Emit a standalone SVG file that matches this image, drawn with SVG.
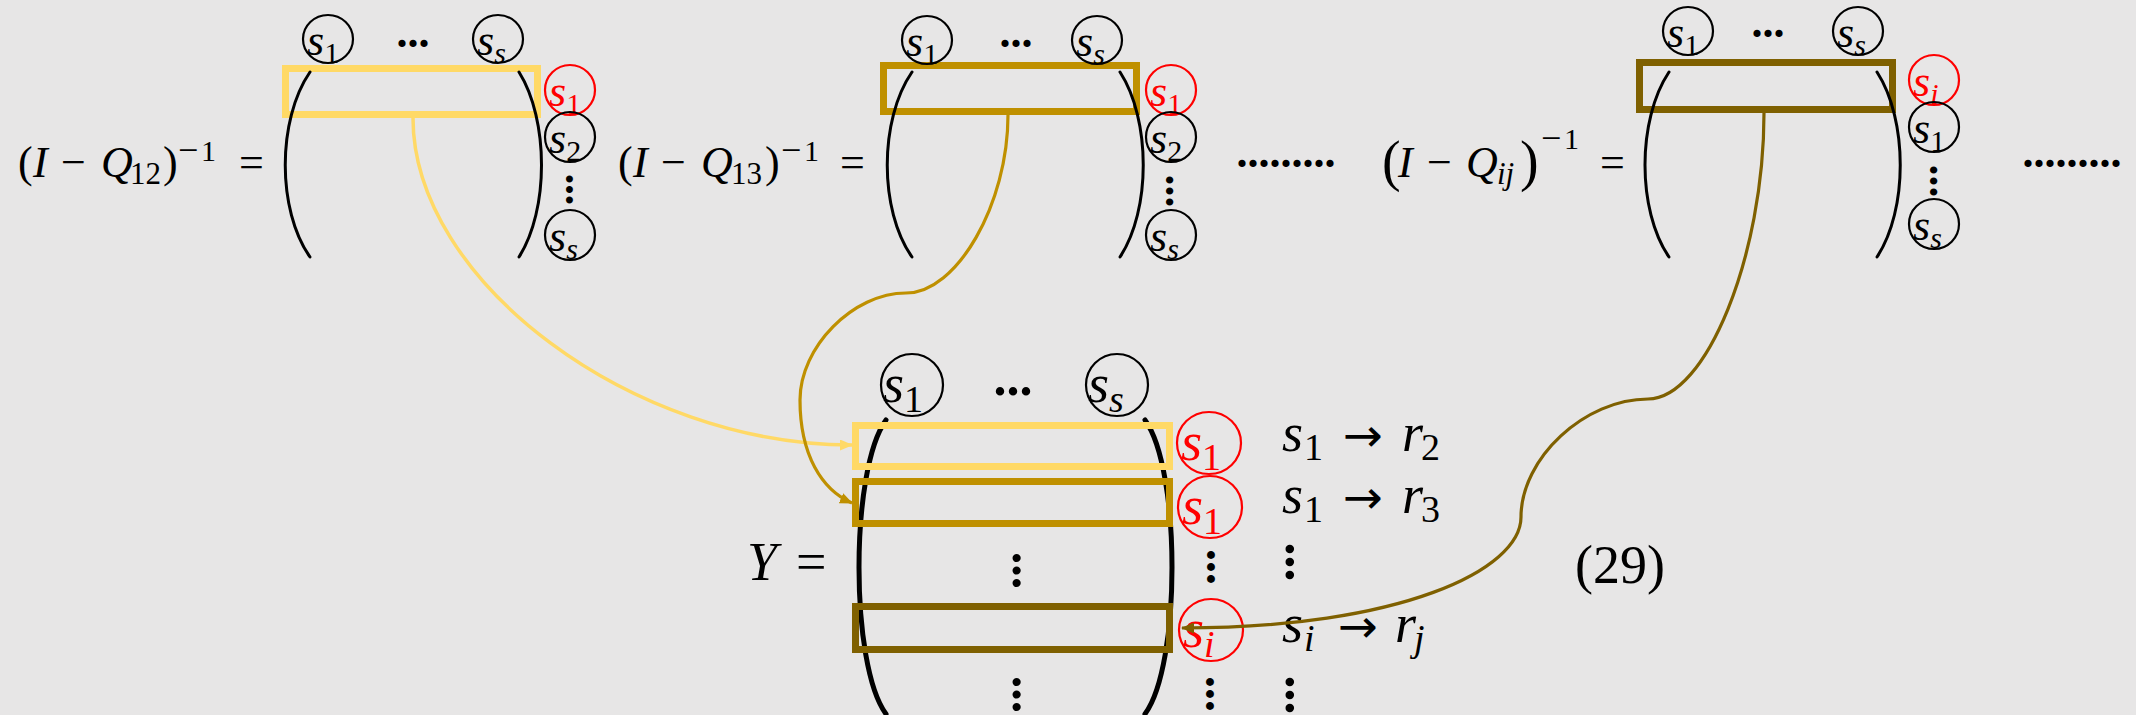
<svg xmlns="http://www.w3.org/2000/svg" width="2136" height="715" viewBox="0 0 2136 715">
<style>
.t{font-family:"Liberation Serif","Times New Roman",serif;fill:#000}
.i{font-style:italic}
.red{fill:#FF0000}
.ar{font-family:"DejaVu Sans",sans-serif}
.vd{font-weight:bold}
.ck{fill:none;stroke:#000;stroke-width:2.2}
.cr{fill:none;stroke:#FF0000;stroke-width:2.2}
.par{fill:none;stroke:#000;stroke-width:3;stroke-linecap:round}
.parB{fill:none;stroke:#000;stroke-width:5;stroke-linecap:round}
.ry{fill:none;stroke:#FFD966;stroke-width:7}
.rg{fill:none;stroke:#BF9000;stroke-width:7}
.rd{fill:none;stroke:#7F6000;stroke-width:7}
.cy{fill:none;stroke:#FFD966;stroke-width:3.5}
.cg{fill:none;stroke:#BF9000;stroke-width:3.2}
.cd{fill:none;stroke:#7F6000;stroke-width:3.2}
.s44{font-size:44px}
.s54{font-size:54px}
</style>
<defs>
<marker id="ahy" viewBox="0 0 13 11" refX="12" refY="5.5" markerWidth="13" markerHeight="11" markerUnits="userSpaceOnUse" orient="auto"><path d="M0,0 L13,5.5 L0,11 z" fill="#FFD966"/></marker>
<marker id="ahg" viewBox="0 0 13 11" refX="12" refY="5.5" markerWidth="13" markerHeight="11" markerUnits="userSpaceOnUse" orient="auto"><path d="M0,0 L13,5.5 L0,11 z" fill="#BF9000"/></marker>
<marker id="ahd" viewBox="0 0 13 11" refX="12" refY="5.5" markerWidth="13" markerHeight="11" markerUnits="userSpaceOnUse" orient="auto"><path d="M0,0 L13,5.5 L0,11 z" fill="#7F6000"/></marker>
</defs>
<rect x="0" y="0" width="2136" height="715" fill="#E7E6E6"/>

<!-- Equation 1 -->
<g id="eq1">
<text class="t s44"><tspan x="18" y="177">(</tspan><tspan class="i" x="33" y="177">I</tspan><tspan x="61" y="177">−</tspan><tspan class="i" x="101" y="177">Q</tspan><tspan x="130" y="184" font-size="31">12</tspan><tspan x="163" y="177">)</tspan><tspan x="178" y="162" font-size="36">−</tspan><tspan x="201" y="161" font-size="30">1</tspan><tspan x="239" y="177">=</tspan></text>
</g>
<g id="m1">
<rect class="ry" x="285.5" y="68.5" width="252" height="46"/>
<path class="par" d="M310,72 C277,120 277,210 310,257"/>
<path class="par" d="M519,72 C549,120 549,210 519,257"/>
<text class="t s44" font-weight="bold" x="396.5" y="47">...</text>
</g>
<g id="m1-c-s1"><ellipse class="ck" cx="328" cy="39" rx="25" ry="24"/><text class="t s44" x="307" y="55"><tspan class="i">s</tspan><tspan font-size="30" dy="8">1</tspan></text></g>
<g id="m1-c-ss"><ellipse class="ck" cx="498" cy="39" rx="25" ry="24"/><text class="t s44" x="477" y="55"><tspan class="i">s</tspan><tspan class="i" font-size="30" dy="8">s</tspan></text></g>
<g id="m1-r-s1"><ellipse class="cr" cx="570" cy="90" rx="25" ry="25"/><text class="t s44 red" x="549" y="106"><tspan class="i">s</tspan><tspan font-size="30" dy="8">1</tspan></text></g>
<g id="m1-r-s2"><ellipse class="ck" cx="570" cy="137" rx="25" ry="25"/><text class="t s44" x="549" y="153"><tspan class="i">s</tspan><tspan font-size="30" dy="8">2</tspan></text></g>
<text class="t vd" font-size="42" transform="translate(566,173.75) rotate(90)">...</text>
<g id="m1-r-ss"><ellipse class="ck" cx="570" cy="235" rx="25" ry="25"/><text class="t s44" x="549" y="251"><tspan class="i">s</tspan><tspan class="i" font-size="30" dy="8">s</tspan></text></g>

<!-- Equation 2 -->
<g id="eq2">
<text class="t s44"><tspan x="618" y="177">(</tspan><tspan class="i" x="633" y="177">I</tspan><tspan x="661" y="177">−</tspan><tspan class="i" x="701" y="177">Q</tspan><tspan x="731" y="184" font-size="31">13</tspan><tspan x="765" y="177">)</tspan><tspan x="781" y="162" font-size="36">−</tspan><tspan x="804" y="161" font-size="30">1</tspan><tspan x="840" y="177">=</tspan></text>
</g>
<g id="m2">
<rect class="rg" x="883.5" y="65.5" width="253" height="46"/>
<path class="par" d="M912,72 C879,120 879,210 912,257"/>
<path class="par" d="M1120,72 C1151,120 1151,210 1120,257"/>
<text class="t s44" font-weight="bold" x="999.5" y="47">...</text>
</g>
<g id="m2-c-s1"><ellipse class="ck" cx="927" cy="40" rx="25" ry="24"/><text class="t s44" x="906" y="56"><tspan class="i">s</tspan><tspan font-size="30" dy="8">1</tspan></text></g>
<g id="m2-c-ss"><ellipse class="ck" cx="1097" cy="40" rx="25" ry="24"/><text class="t s44" x="1076" y="56"><tspan class="i">s</tspan><tspan class="i" font-size="30" dy="8">s</tspan></text></g>
<g id="m2-r-s1"><ellipse class="cr" cx="1171" cy="90" rx="25" ry="25"/><text class="t s44 red" x="1150" y="106"><tspan class="i">s</tspan><tspan font-size="30" dy="8">1</tspan></text></g>
<g id="m2-r-s2"><ellipse class="ck" cx="1171" cy="137" rx="25" ry="25"/><text class="t s44" x="1150" y="153"><tspan class="i">s</tspan><tspan font-size="30" dy="8">2</tspan></text></g>
<text class="t vd" font-size="44" transform="translate(1166,174.5) rotate(90)">...</text>
<g id="m2-r-ss"><ellipse class="ck" cx="1171" cy="235" rx="25" ry="25"/><text class="t s44" x="1150" y="251"><tspan class="i">s</tspan><tspan class="i" font-size="30" dy="8">s</tspan></text></g>

<text id="dots1" class="t s44" font-weight="bold" x="1236.5" y="167">.........</text>

<!-- Equation 3 -->
<g id="eq3">
<text class="t s44"><tspan x="1382" y="180" font-size="56">(</tspan><tspan class="i" x="1398" y="177">I</tspan><tspan x="1427" y="177">−</tspan><tspan class="i" x="1466" y="177">Q</tspan><tspan class="i" x="1497" y="184" font-size="31">ij</tspan><tspan x="1520" y="180" font-size="56">)</tspan><tspan x="1541" y="150" font-size="36">−</tspan><tspan x="1564" y="149" font-size="30">1</tspan><tspan x="1600" y="177">=</tspan></text>
</g>
<g id="m3">
<rect class="rd" x="1639.5" y="62.5" width="253" height="47"/>
<path class="par" d="M1669,72 C1637,120 1637,210 1669,257"/>
<path class="par" d="M1877,72 C1908,120 1908,210 1877,257"/>
<text class="t s44" font-weight="bold" x="1751.5" y="37">...</text>
</g>
<g id="m3-c-s1"><ellipse class="ck" cx="1688" cy="31" rx="25" ry="24"/><text class="t s44" x="1667" y="47"><tspan class="i">s</tspan><tspan font-size="30" dy="8">1</tspan></text></g>
<g id="m3-c-ss"><ellipse class="ck" cx="1858" cy="31" rx="25" ry="24"/><text class="t s44" x="1837" y="47"><tspan class="i">s</tspan><tspan class="i" font-size="30" dy="8">s</tspan></text></g>
<g id="m3-r-si"><ellipse class="cr" cx="1934" cy="80" rx="25" ry="25"/><text class="t s44 red" x="1913" y="96"><tspan class="i">s</tspan><tspan class="i" font-size="30" dy="8">i</tspan></text></g>
<g id="m3-r-s1"><ellipse class="ck" cx="1934" cy="127" rx="25" ry="25"/><text class="t s44" x="1913" y="143"><tspan class="i">s</tspan><tspan font-size="30" dy="8">1</tspan></text></g>
<text class="t vd" font-size="44" transform="translate(1930,164.5) rotate(90)">...</text>
<g id="m3-r-ss"><ellipse class="ck" cx="1934" cy="224" rx="25" ry="25"/><text class="t s44" x="1913" y="240"><tspan class="i">s</tspan><tspan class="i" font-size="30" dy="8">s</tspan></text></g>

<text id="dots2" class="t s44" font-weight="bold" x="2022.5" y="167">.........</text>

<!-- Y matrix -->
<g id="eqY">
<text class="t s54"><tspan class="i" x="747" y="580">Y</tspan><tspan x="796" y="580">=</tspan></text>
</g>
<g id="Y">
<path class="parB" d="M886,420 C850,470 850,665 886,714"/>
<path class="parB" d="M1145,420 C1181,470 1181,665 1145,714"/>
<rect class="ry" x="855.5" y="425.5" width="314" height="41"/>
<rect class="rg" x="855.5" y="481.5" width="314" height="42"/>
<rect class="rd" x="855.5" y="606.5" width="314" height="43"/>
<text class="t" font-size="52" font-weight="bold" x="993.5" y="395">...</text>
<text class="t vd" font-size="50" transform="translate(1013,551.75) rotate(90)">...</text>
<text class="t vd" font-size="50" transform="translate(1013,675.75) rotate(90)">...</text>
</g>
<g id="Y-c-s1"><ellipse class="ck" cx="912" cy="385" rx="31" ry="31"/><text class="t s54" x="883" y="402"><tspan class="i">s</tspan><tspan font-size="38" dy="10">1</tspan></text></g>
<g id="Y-c-ss"><ellipse class="ck" cx="1117" cy="385" rx="31" ry="31"/><text class="t s54" x="1088" y="402"><tspan class="i">s</tspan><tspan class="i" font-size="38" dy="10">s</tspan></text></g>
<g id="Y-r-s1a"><ellipse class="cr" cx="1209" cy="443" rx="32" ry="31"/><text class="t s54 red" x="1181" y="460"><tspan class="i">s</tspan><tspan font-size="38" dy="10">1</tspan></text></g>
<g id="Y-r-s1b"><ellipse class="cr" cx="1210" cy="507" rx="32" ry="31"/><text class="t s54 red" x="1182" y="524"><tspan class="i">s</tspan><tspan font-size="38" dy="10">1</tspan></text></g>
<text class="t vd" font-size="48" transform="translate(1207,549) rotate(90)">...</text>
<g id="Y-r-si"><ellipse class="cr" cx="1211" cy="630" rx="32" ry="31"/><text class="t s54 red" x="1183" y="647"><tspan class="i">s</tspan><tspan class="i" font-size="38" dy="10">i</tspan></text></g>
<text class="t vd" font-size="48" transform="translate(1206,676) rotate(90)">...</text>

<g id="map1"><text class="t s54"><tspan class="i" x="1282" y="451">s</tspan><tspan x="1304" y="460" font-size="38">1</tspan><tspan class="ar" x="1343" y="451" font-size="46" textLength="40" lengthAdjust="spacingAndGlyphs">→</tspan><tspan class="i" x="1402" y="451">r</tspan><tspan x="1421" y="460" font-size="38">2</tspan></text></g>
<g id="map2"><text class="t s54"><tspan class="i" x="1282" y="513">s</tspan><tspan x="1304" y="522" font-size="38">1</tspan><tspan class="ar" x="1343" y="513" font-size="46" textLength="40" lengthAdjust="spacingAndGlyphs">→</tspan><tspan class="i" x="1402" y="513">r</tspan><tspan x="1421" y="522" font-size="38">3</tspan></text></g>
<text class="t vd" font-size="52" transform="translate(1286,542.5) rotate(90)">...</text>
<g id="map3"><text class="t s54"><tspan class="i" x="1282" y="642">s</tspan><tspan class="i" x="1304" y="651" font-size="38">i</tspan><tspan class="ar" x="1338" y="642" font-size="46" textLength="40" lengthAdjust="spacingAndGlyphs">→</tspan><tspan class="i" x="1395" y="642">r</tspan><tspan class="i" x="1414" y="651" font-size="38">j</tspan></text></g>
<text class="t vd" font-size="52" transform="translate(1286,675.5) rotate(90)">...</text>

<text id="eqnum" class="t" font-size="54" x="1575" y="583">(29)</text>

<g id="connectors">
<path class="cy" d="M413,118 C413,281 632,445 852,445" marker-end="url(#ahy)"/>
<path class="cg" d="M1008,115 C1008,204 957,293 906,293 C853,293 800,347 800,400 C800,455 822,490 852,503" marker-end="url(#ahg)"/>
<path class="cd" d="M1764,113 C1764,256 1706,399 1648,399 C1585,399 1521,458 1521,517 C1521,570 1400,628 1182,628" marker-end="url(#ahd)"/>
</g>
</svg>
